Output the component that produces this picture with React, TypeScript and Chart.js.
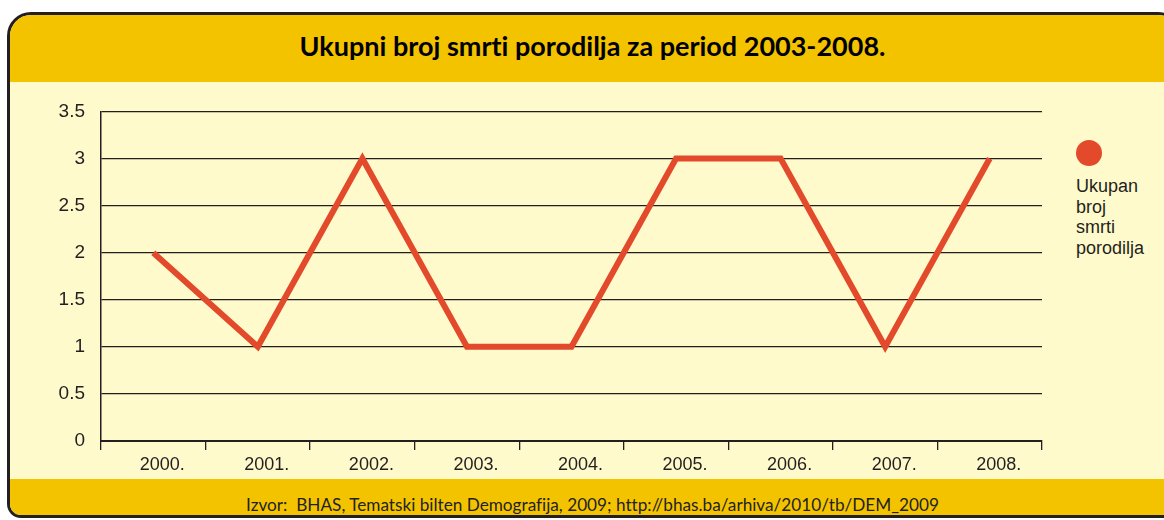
import React, { useEffect, useRef } from 'react';
import { Chart, registerables } from 'chart.js';

Chart.register(...registerables);

const TITLE = 'Ukupni broj smrti porodilja za period 2003-2008.';
const SOURCE = 'Izvor:  BHAS, Tematski bilten Demografija, 2009; http://bhas.ba/arhiva/2010/tb/DEM_2009';

const years = ['2000.', '2001.', '2002.', '2003.', '2004.', '2005.', '2006.', '2007.', '2008.'];
const deaths = [2, 1, 3, 1, 1, 3, 3, 1, 3];
const seriesLabel = 'Ukupan broj smrti porodilja';
const yTickLabels = ['0', '0.5', '1', '1.5', '2', '2.5', '3', '3.5'];
const yMin = 0;
const yMax = 3.5;
const yStep = 0.5;

const LINE_COLOR = '#E34A2B';
const DARK = '#231f20';
const YELLOW = '#F4C300';
const LIGHT = '#FFFACB';
const AXIS_FONT = '"Liberation Sans", Arial, sans-serif';

export default function App() {
  const canvasRef = useRef<HTMLCanvasElement | null>(null);

  useEffect(() => {
    const canvas = canvasRef.current;
    if (!canvas) return;
    const chart = new Chart(canvas, {
      type: 'line',
      data: {
        labels: years,
        datasets: [
          {
            label: seriesLabel,
            data: deaths,
            borderColor: LINE_COLOR,
            backgroundColor: LINE_COLOR,
            borderWidth: 6,
            pointRadius: 0,
            pointHoverRadius: 0,
            tension: 0,
            borderJoinStyle: 'miter',
            borderCapStyle: 'butt',
            fill: false,
          },
        ],
      },
      options: {
        animation: false,
        responsive: false,
        maintainAspectRatio: false,
        layout: { padding: { top: 27, right: 13, left: 0, bottom: 0 } },
        plugins: {
          legend: { display: false },
          tooltip: { enabled: false },
          title: { display: false },
        },
        scales: {
          x: {
            type: 'category',
            offset: true,
            grid: {
              display: true,
              drawOnChartArea: false,
              drawTicks: true,
              tickLength: 9,
              offset: true,
              color: DARK,
              lineWidth: 1.3,
            },
            border: { display: true, color: DARK, width: 2 },
            ticks: {
              color: DARK,
              font: { family: AXIS_FONT, size: 18 },
              padding: 4,
              labelOffset: 9,
              maxRotation: 0,
              autoSkip: false,
            },
            afterFit: (s: any) => {
              s.height = 35;
            },
          },
          y: {
            min: yMin,
            max: yMax,
            grid: { color: DARK, lineWidth: 1.3, drawTicks: false },
            border: { display: true, color: DARK, width: 1.5 },
            ticks: {
              stepSize: yStep,
              padding: 16,
              color: DARK,
              font: { family: AXIS_FONT, size: 19 },
              callback: (value: any) => {
                const i = Math.round((Number(value) - yMin) / yStep);
                return yTickLabels[i] ?? String(value);
              },
            },
            afterFit: (s: any) => {
              s.width = 91;
            },
          },
        },
      },
    });
    return () => chart.destroy();
  }, []);

  const legendLines = seriesLabel.split(' ');

  return (
    <div
      style={{
        position: 'fixed',
        left: 0,
        top: 0,
        width: 1164,
        height: 520,
        overflow: 'hidden',
        background: '#ffffff',
      }}
    >
      <div
        style={{
          position: 'absolute',
          left: 7,
          top: 12,
          width: 1175,
          height: 506,
          boxSizing: 'border-box',
          border: `3px solid ${DARK}`,
          borderRadius: '24px 24px 14px 14px',
          overflow: 'hidden',
          background: LIGHT,
        }}
      >
        <div style={{ position: 'absolute', left: 0, top: 0, right: 0, height: 67, background: YELLOW }} />
        <div style={{ position: 'absolute', left: 0, top: 464, right: 0, bottom: 0, background: YELLOW }} />
      </div>
      <div
        style={{
          position: 'absolute',
          left: 0,
          top: 30,
          width: 1185,
          textAlign: 'center',
          fontFamily: 'Lato, sans-serif',
          fontWeight: 700,
          fontSize: 27,
          lineHeight: '32.4px',
          color: '#000',
          whiteSpace: 'pre',
          fontVariantLigatures: 'none',
        }}
      >
        {TITLE}
      </div>
      <div
        style={{
          position: 'absolute',
          left: 0,
          top: 495,
          width: 1185,
          textAlign: 'center',
          fontFamily: 'Lato, sans-serif',
          fontSize: 17.2,
          lineHeight: '20.6px',
          color: DARK,
          whiteSpace: 'pre',
          fontVariantLigatures: 'none',
        }}
      >
        {SOURCE}
      </div>
      <canvas
        ref={canvasRef}
        width={1045}
        height={392}
        style={{ position: 'absolute', left: 10, top: 84, width: 1045, height: 392 }}
      />
      <div
        style={{
          position: 'absolute',
          left: 1076,
          top: 140,
          width: 26,
          height: 26,
          borderRadius: '50%',
          background: LINE_COLOR,
        }}
      />
      <div
        style={{
          position: 'absolute',
          left: 1076,
          top: 176,
          fontFamily: AXIS_FONT,
          fontSize: 18,
          lineHeight: '20.5px',
          color: DARK,
        }}
      >
        {legendLines.map((w, i) => (
          <div key={i}>{w}</div>
        ))}
      </div>
    </div>
  );
}
